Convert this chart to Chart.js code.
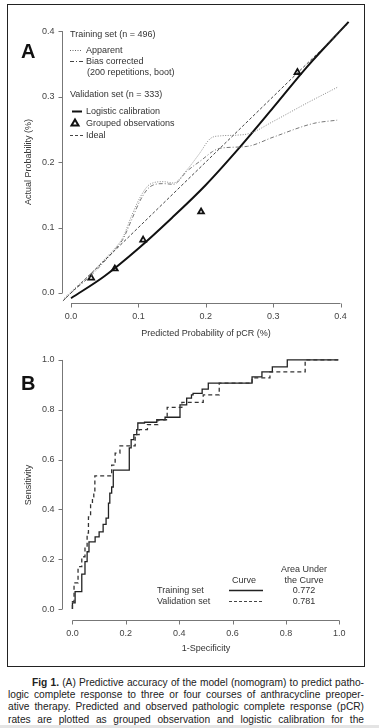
<!DOCTYPE html>
<html><head><meta charset="utf-8">
<script src="https://cdn.jsdelivr.net/npm/chart.js@4"></script>
<style>
html,body{margin:0;padding:0;background:#fff;}
body{width:379px;height:728px;position:relative;overflow:hidden;font-family:"Liberation Sans",Arial,Helvetica,sans-serif;}
.frame{position:absolute;left:7px;top:4px;width:358px;height:663px;border:1.5px solid #222;box-sizing:border-box;}
canvas{position:absolute;left:0;}
.t{position:absolute;white-space:nowrap;color:#333;font-size:9px;line-height:1;transform:translateY(-50%);}
.c{transform:translate(-50%,-50%);text-align:center;}
.big{font-weight:bold;font-size:20px;color:#111;}
.rot{transform:translate(-50%,-50%) rotate(-90deg);}
.cap{position:absolute;font-size:10.2px;line-height:1;color:#222;white-space:nowrap;text-align:justify;text-align-last:justify;transform:translateY(-50%);}
.bar{position:absolute;left:0;top:725px;width:379px;height:3px;background:#e4e4e4;}
</style></head>
<body>
<div class="frame"></div>
<canvas id="ca" width="379" height="340" style="top:0"></canvas>
<canvas id="cb" width="379" height="320" style="top:340px"></canvas>

<div class="t big" style="left:21px;top:51px">A</div>
<div class="t" style="left:70px;top:34px">Training set (n = 496)</div>
<div class="t" style="left:86px;top:50px">Apparent</div>
<div class="t" style="left:86px;top:61px">Bias corrected</div>
<div class="t" style="left:87px;top:72px">(200 repetitions, boot)</div>
<div class="t" style="left:70px;top:94px">Validation set (n = 333)</div>
<div class="t" style="left:86px;top:111px">Logistic calibration</div>
<div class="t" style="left:86px;top:123px">Grouped observations</div>
<div class="t" style="left:86px;top:135px">Ideal</div>
<div class="t c" style="left:206px;top:333px">Predicted Probability of pCR (%)</div>
<div class="t rot" style="left:28px;top:162px">Actual Probability (%)</div>

<div class="t big" style="left:21px;top:383px">B</div>
<div class="t rot" style="left:28px;top:485px">Sensitivity</div>
<div class="t c" style="left:206px;top:648px">1-Specificity</div>
<div class="t c" style="left:244px;top:580px">Curve</div>
<div class="t c" style="left:304px;top:569px">Area Under</div>
<div class="t c" style="left:304px;top:580px">the Curve</div>
<div class="t c" style="left:304px;top:590px">0.772</div>
<div class="t c" style="left:304px;top:601px">0.781</div>
<div class="t" style="left:157px;top:590px">Training set</div>
<div class="t" style="left:157px;top:601px">Validation set</div>

<div class="cap" style="left:32px;width:332px;top:683px"><b>Fig 1.</b> (A) Predictive accuracy of the model (nomogram) to predict patho-</div>
<div class="cap" style="left:8px;width:356px;top:695px">logic complete response to three or four courses of anthracycline preoper-</div>
<div class="cap" style="left:8px;width:356px;top:707px">ative therapy. Predicted and observed pathologic complete response (pCR)</div>
<div class="cap" style="left:8px;width:356px;top:720px">rates are plotted as grouped observation and logistic calibration for the</div>
<div class="bar"></div>

<script>
// ---- Panel A data ----
const idealX = [-0.012, 0.41];
const idealY = [-0.012, 0.41];
const logisticX = [0, 0.05, 0.1, 0.15, 0.2, 0.25, 0.3, 0.35, 0.412];
const logisticY = [-0.008, 0.026, 0.068, 0.115, 0.165, 0.222, 0.283, 0.345, 0.414];
const apparentX = [-0.01, 0.0, 0.03, 0.053, 0.065, 0.077, 0.09, 0.103, 0.117, 0.137, 0.152, 0.172, 0.19, 0.207, 0.222, 0.245, 0.266, 0.3, 0.35, 0.395];
const apparentY = [-0.008, 0.002, 0.03, 0.055, 0.068, 0.085, 0.118, 0.147, 0.166, 0.170, 0.168, 0.188, 0.212, 0.236, 0.240, 0.241, 0.244, 0.262, 0.29, 0.314];
const biasX = [-0.01, 0.0, 0.03, 0.053, 0.065, 0.077, 0.09, 0.103, 0.117, 0.137, 0.152, 0.172, 0.195, 0.21, 0.221, 0.262, 0.3, 0.36, 0.395];
const biasY = [-0.01, 0.0, 0.027, 0.052, 0.066, 0.082, 0.112, 0.142, 0.162, 0.167, 0.166, 0.186, 0.204, 0.216, 0.221, 0.224, 0.238, 0.259, 0.264];
const groupedX = [0.030, 0.065, 0.107, 0.193, 0.336];
const groupedY = [0.023, 0.037, 0.081, 0.124, 0.337];
const ticksA = [0, 0.1, 0.2, 0.3, 0.4];

// ---- Panel B data (ROC, step points) ----
const trainX = [0, 0, 0.01, 0.035, 0.047, 0.055, 0.062, 0.085, 0.10, 0.115, 0.126, 0.135, 0.14, 0.147, 0.153, 0.213, 0.22, 0.23, 0.241, 0.245, 0.27, 0.316, 0.347, 0.403, 0.428, 0.446, 0.452, 0.486, 0.509, 0.673, 0.71, 0.749, 0.805, 0.996];
const trainY = [0, 0.025, 0.07, 0.14, 0.19, 0.23, 0.27, 0.29, 0.31, 0.34, 0.365, 0.425, 0.465, 0.49, 0.558, 0.647, 0.68, 0.70, 0.72, 0.747, 0.75, 0.76, 0.77, 0.82, 0.847, 0.86, 0.866, 0.883, 0.907, 0.932, 0.952, 0.972, 1.0, 1.0];
const validX = [0, 0, 0.006, 0.021, 0.035, 0.047, 0.055, 0.06, 0.068, 0.075, 0.08, 0.084, 0.147, 0.16, 0.178, 0.235, 0.25, 0.281, 0.32, 0.355, 0.41, 0.49, 0.55, 0.673, 0.74, 0.872, 0.996];
const validY = [0, 0.03, 0.105, 0.17, 0.21, 0.25, 0.305, 0.37, 0.425, 0.45, 0.47, 0.535, 0.578, 0.626, 0.655, 0.70, 0.72, 0.74, 0.76, 0.81, 0.83, 0.86, 0.907, 0.928, 0.952, 1.0, 1.0];
const ticksB = [0, 0.2, 0.4, 0.6, 0.8, 1.0];

const pts = (xs, ys) => xs.map((x, i) => ({x, y: ys[i]}));
const FONT = '9px "Liberation Sans", Arial, sans-serif';

const rAxes = {
  id: 'rAxes',
  afterDraw(chart, args, opts) {
    const {ctx, chartArea: a, scales: {x, y}} = chart;
    const tk = opts.ticks;
    ctx.save();
    ctx.strokeStyle = '#777'; ctx.lineWidth = 1; ctx.setLineDash([]);
    ctx.fillStyle = '#444'; ctx.font = FONT;
    const xb = Math.round(a.bottom) + 0.5;
    const yl = Math.round(a.left) + 0.5;
    ctx.beginPath();
    ctx.moveTo(x.getPixelForValue(tk[0]), xb);
    ctx.lineTo(x.getPixelForValue(tk[tk.length - 1]), xb);
    tk.forEach(v => { const p = Math.round(x.getPixelForValue(v)) + 0.5; ctx.moveTo(p, xb); ctx.lineTo(p, xb + 4); });
    ctx.moveTo(yl, y.getPixelForValue(tk[0]));
    ctx.lineTo(yl, y.getPixelForValue(tk[tk.length - 1]));
    tk.forEach(v => { const p = Math.round(y.getPixelForValue(v)) + 0.5; ctx.moveTo(yl, p); ctx.lineTo(yl - 4, p); });
    ctx.stroke();
    ctx.textAlign = 'center'; ctx.textBaseline = 'middle';
    tk.forEach(v => ctx.fillText(v.toFixed(1), x.getPixelForValue(v), xb + 13));
    ctx.textAlign = 'right';
    tk.forEach(v => ctx.fillText(v.toFixed(1), yl - 8, y.getPixelForValue(v)));
    // legend samples
    (opts.samples || []).forEach(s => {
      ctx.beginPath();
      ctx.strokeStyle = s.color; ctx.lineWidth = s.width; ctx.setLineDash(s.dash || []);
      ctx.moveTo(s.x1, s.y); ctx.lineTo(s.x2, s.y); ctx.stroke();
    });
    (opts.tri || []).forEach(t => {
      ctx.beginPath(); ctx.setLineDash([]);
      ctx.strokeStyle = '#111'; ctx.lineWidth = 2; ctx.fillStyle = '#fff';
      ctx.moveTo(t.x, t.y - 3.5); ctx.lineTo(t.x + 3.5, t.y + 2.5); ctx.lineTo(t.x - 3.5, t.y + 2.5); ctx.closePath();
      ctx.fill(); ctx.stroke();
    });
    ctx.restore();
  }
};

new Chart(document.getElementById('ca'), {
  type: 'scatter',
  data: { datasets: [
    { data: pts(idealX, idealY), showLine: true, borderColor: '#444', borderWidth: 1, borderDash: [3, 2], pointRadius: 0 },
    { data: pts(apparentX, apparentY), showLine: true, borderColor: '#888', borderWidth: 1, borderDash: [1, 1.5], pointRadius: 0, cubicInterpolationMode: 'monotone' },
    { data: pts(biasX, biasY), showLine: true, borderColor: '#777', borderWidth: 1, borderDash: [4, 2, 1, 2], pointRadius: 0, cubicInterpolationMode: 'monotone' },
    { data: pts(logisticX, logisticY), showLine: true, borderColor: '#111', borderWidth: 2, pointRadius: 0, cubicInterpolationMode: 'monotone' },
    { data: pts(groupedX, groupedY), showLine: false, pointStyle: 'triangle', pointRadius: 3.3, borderColor: '#111', borderWidth: 1.8, backgroundColor: '#fff' }
  ]},
  options: {
    responsive: false, animation: false,
    layout: { padding: { left: 62, right: 25, top: 18, bottom: 37 } },
    scales: {
      x: { type: 'linear', min: -0.0134, max: 0.42, display: false },
      y: { type: 'linear', min: -0.0153, max: 0.42, display: false }
    },
    plugins: {
      legend: { display: false }, tooltip: { enabled: false },
      rAxes: {
        ticks: ticksA,
        samples: [
          { x1: 70, x2: 82, y: 50.5, color: '#666', width: 1, dash: [1, 1.5] },
          { x1: 70, x2: 83, y: 61.5, color: '#444', width: 1.2, dash: [4, 2, 1, 2] },
          { x1: 72, x2: 82, y: 111.5, color: '#111', width: 2 },
          { x1: 70, x2: 83, y: 135.5, color: '#444', width: 1, dash: [3, 2] }
        ],
        tri: [{ x: 75, y: 123 }]
      }
    }
  },
  plugins: [rAxes]
});

new Chart(document.getElementById('cb'), {
  type: 'scatter',
  data: { datasets: [
    { data: pts(validX, validY), showLine: true, stepped: 'before', borderColor: '#333', borderWidth: 1.3, borderDash: [4, 3], pointRadius: 0 },
    { data: pts(trainX, trainY), showLine: true, stepped: 'before', borderColor: '#222', borderWidth: 1.3, pointRadius: 0 }
  ]},
  options: {
    responsive: false, animation: false,
    layout: { padding: { left: 61.5, right: 29, top: 10, bottom: 40 } },
    scales: {
      x: { type: 'linear', min: -0.041, max: 1.04, display: false },
      y: { type: 'linear', min: -0.044, max: 1.04, display: false }
    },
    plugins: {
      legend: { display: false }, tooltip: { enabled: false },
      rAxes: {
        ticks: ticksB,
        samples: [
          { x1: 229, x2: 263, y: 250.5, color: '#222', width: 1.3 },
          { x1: 229, x2: 263, y: 261.5, color: '#444', width: 1, dash: [3, 2] }
        ]
      }
    }
  },
  plugins: [rAxes]
});
</script>
</body></html>
